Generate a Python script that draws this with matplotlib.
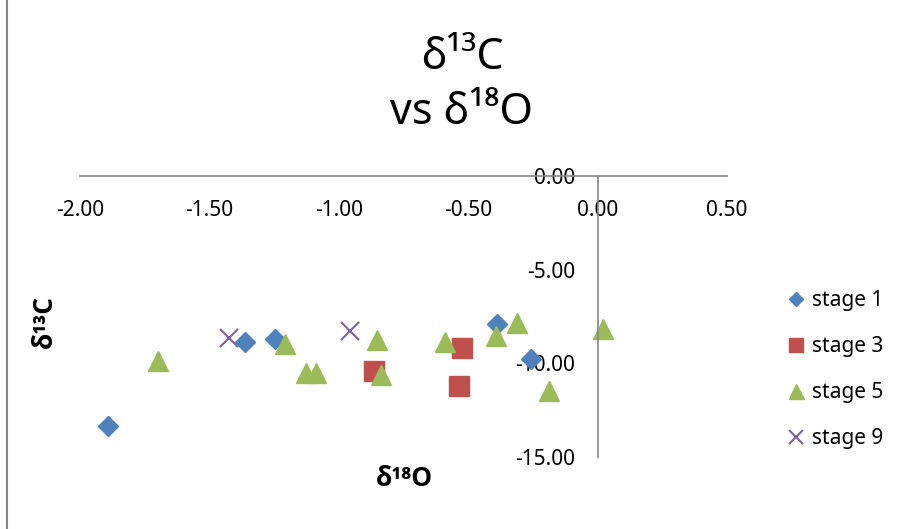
import matplotlib
matplotlib.use("Agg")
import matplotlib.pyplot as plt

plt.rcParams['font.family'] = ['Noto Sans', 'DejaVu Sans']

# delta values
stage1_x = [-1.892, -1.362, -1.246, -0.388, -0.259]
stage1_y = [-13.35, -8.85, -8.72, -7.92, -9.79]

stage3_x = [-0.864, -0.523, -0.537]
stage3_y = [-10.41, -9.20, -11.21]

stage5_x = [-1.70, -1.208, -1.128, -1.089, -0.854, -0.837, -0.590, -0.394, -0.310, -0.188, 0.020]
stage5_y = [-9.86, -8.99, -10.50, -10.50, -8.76, -10.62, -8.85, -8.54, -7.83, -11.46, -8.19]

stage9_x = [-1.424, -0.957]
stage9_y = [-8.63, -8.26]

xticks = [-2.0, -1.5, -1.0, -0.5, 0.0, 0.5]
yticks = [0, -5, -10, -15]

W, H = 902, 529
fig = plt.figure(figsize=(W / 100, H / 100), dpi=100)
ax = fig.add_axes([80 / W, (H - 457) / H, 647 / W, 281 / H])

ax.plot(stage1_x, stage1_y, 'D', color='#4F81BD', markersize=9.7, label='stage 1', clip_on=False)
ax.plot(stage3_x, stage3_y, 's', color='#C0504D', markersize=14, label='stage 3', clip_on=False)
ax.plot(stage5_x, stage5_y, '^', color='#9BBB59', markersize=14.4, label='stage 5', clip_on=False)
ax.plot(stage9_x, stage9_y, 'x', color='#8064A2', markersize=13, markeredgewidth=1.5,
        label='stage 9', clip_on=False)

ax.set_xlim(-2, 0.5)
ax.set_ylim(-15, 0)
ax.set_xticks(xticks)
ax.set_yticks(yticks)
ax.set_xticklabels(['%.2f' % v for v in xticks])
ax.set_yticklabels(['%.2f' % v for v in yticks])

ax.spines['top'].set_visible(False)
ax.spines['right'].set_visible(False)
ax.spines['bottom'].set_position(('data', 0))
ax.spines['left'].set_position(('data', 0))
for s in ('bottom', 'left'):
    ax.spines[s].set_color('#868686')
    ax.spines[s].set_linewidth(1.2)
    ax.spines[s].set_zorder(3)
ax.tick_params(axis='x', length=0, pad=17, labelsize=15)
ax.tick_params(axis='y', length=0, pad=16, labelsize=15)
for lab in ax.get_yticklabels():
    lab.set_zorder(1)

fig.text(462 / W, 1 - 58 / H, 'δ¹³C', ha='center', va='center', fontsize=31)
fig.text(462 / W, 1 - 113 / H, 'vs δ¹⁸O', ha='center', va='center', fontsize=31)

# bold axis titles
bold_fonts = ['Open Sans', 'DejaVu Sans']
fig.text(44 / W, 1 - 322 / H, 'δ¹³C', rotation=90, ha='center', va='center',
         fontsize=19, fontweight='bold', family=bold_fonts)
fig.text(404 / W, 1 - 478 / H, 'δ¹⁸O', ha='center', va='center',
         fontsize=19, fontweight='bold', family=bold_fonts)

fig.legend(loc='upper left', bbox_to_anchor=(772 / W, 1 - 282 / H), frameon=False,
           fontsize=15, handletextpad=0.0, labelspacing=1.2, handlelength=1.5,
           markerscale=0.75, borderaxespad=0)

# left edge of the chart frame
fig.add_artist(plt.Line2D([7 / W, 7 / W], [0, 1], color='#868686', lw=1.5))

fig.savefig('out.png', dpi=100)
